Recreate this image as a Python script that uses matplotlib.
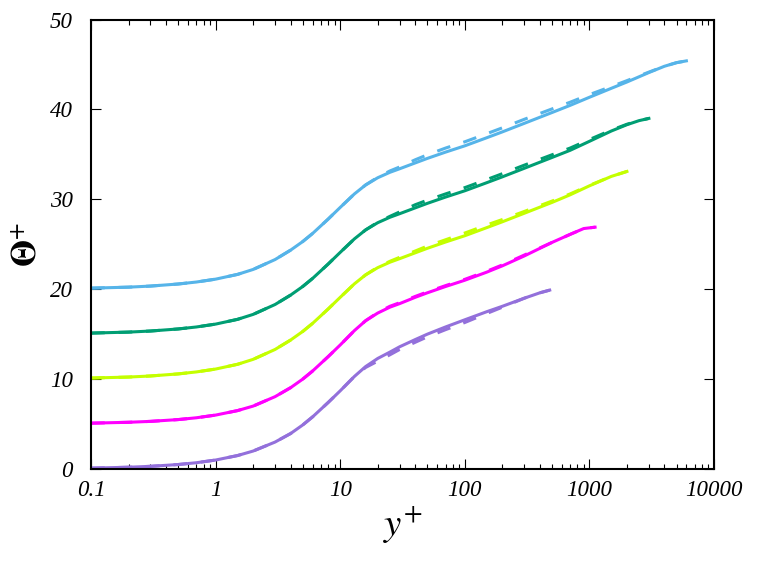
import numpy as np
import matplotlib
matplotlib.use('Agg')
import matplotlib.pyplot as plt
from matplotlib.ticker import FixedLocator, FixedFormatter, LogLocator, NullFormatter

yp = [0.1, 0.2, 0.3, 0.5, 0.7, 1, 1.5, 2, 3, 4, 5, 6, 8, 10, 13, 16, 20, 25, 30,
      40, 50, 70, 100, 150, 200, 300, 500, 700, 1000, 1500, 2000, 3000, 4000,
      5000, 6000]

# Theta+ (each profile shifted up by 5 in the picture)
purple_x = yp[:26] + [400, 480]
purple = [0.1, 0.2, 0.3, 0.5, 0.7, 1.0, 1.5, 2.0, 3.0, 3.95, 4.9, 5.8, 7.4, 8.7,
          10.3, 11.4, 12.3, 13.0, 13.6, 14.4, 15.0, 15.8, 16.6, 17.5, 18.1, 19.0,
          19.6, 19.9]
purple_d = [0.1, 0.2, 0.3, 0.5, 0.7, 1.0, 1.5, 2.0, 3.0, 3.95, 4.9, 5.8, 7.4, 8.7,
            10.3, 11.3, 12.0, 12.7, 13.3, 14.1, 14.7, 15.5, 16.3, 17.3, 18.0, 19.0,
            19.6, 19.9]

magenta_x = yp[:28] + [900, 1110]
magenta = [5.1, 5.2, 5.3, 5.5, 5.7, 6.0, 6.5, 7.0, 8.05, 9.05, 10.0, 10.9, 12.5,
           13.8, 15.4, 16.5, 17.35, 18.0, 18.4, 19.1, 19.6, 20.3, 21.0, 21.9, 22.6,
           23.7, 25.2, 26.1, 26.75, 26.9]
magenta_d = [5.1, 5.2, 5.3, 5.5, 5.7, 6.0, 6.5, 7.0, 8.05, 9.05, 10.0, 10.9, 12.5,
             13.8, 15.4, 16.5, 17.4, 18.1, 18.5, 19.2, 19.7, 20.4, 21.1, 22.0, 22.7,
             23.8, 25.2, 26.1, 26.75, 26.9]

yellow_x = yp[:31]
yellow = [10.12, 10.23, 10.35, 10.58, 10.8, 11.12, 11.65, 12.2, 13.3, 14.35, 15.3,
          16.2, 17.8, 19.1, 20.6, 21.6, 22.4, 23.0, 23.4, 24.05, 24.55, 25.25,
          25.95, 26.85, 27.5, 28.45, 29.65, 30.5, 31.5, 32.55, 33.1]
yellow_d = [10.12, 10.23, 10.35, 10.58, 10.8, 11.12, 11.65, 12.2, 13.3, 14.35, 15.3,
            16.2, 17.8, 19.1, 20.6, 21.6, 22.45, 23.1, 23.55, 24.25, 24.8, 25.5,
            26.25, 27.15, 27.75, 28.65, 29.8, 30.6, 31.55, 32.55, 33.1]

green_x = yp[:31] + [2500, 3000]
green = [15.12, 15.23, 15.35, 15.58, 15.8, 16.12, 16.65, 17.2, 18.3, 19.35, 20.3,
         21.2, 22.8, 24.1, 25.6, 26.6, 27.4, 28.0, 28.4, 29.05, 29.55, 30.25, 30.95,
         31.85, 32.5, 33.45, 34.65, 35.45, 36.45, 37.6, 38.3, 38.75, 39.0]
green_d = [15.12, 15.23, 15.35, 15.58, 15.8, 16.12, 16.65, 17.2, 18.3, 19.35, 20.3,
           21.2, 22.8, 24.1, 25.6, 26.6, 27.45, 28.1, 28.6, 29.4, 29.9, 30.6, 31.3,
           32.2, 32.85, 33.8, 34.95, 35.7, 36.65, 37.7, 38.35, 38.75, 39.0]

blue_x = yp
blue = [20.12, 20.23, 20.35, 20.58, 20.8, 21.12, 21.65, 22.2, 23.3, 24.35, 25.3,
        26.2, 27.8, 29.1, 30.6, 31.6, 32.4, 33.0, 33.4, 34.05, 34.55, 35.25, 35.95,
        36.85, 37.5, 38.45, 39.65, 40.45, 41.35, 42.35, 43.05, 44.1, 44.8, 45.2, 45.4]
blue_d = [20.12, 20.23, 20.35, 20.58, 20.8, 21.12, 21.65, 22.2, 23.3, 24.35, 25.3,
          26.2, 27.8, 29.1, 30.6, 31.6, 32.45, 33.15, 33.6, 34.4, 34.95, 35.7, 36.4,
          37.3, 37.95, 38.9, 40.05, 40.8, 41.65, 42.55, 43.2, 44.15, 44.8, 45.2, 45.4]

series = [
    (purple_x, purple, purple_d, '#9370db'),
    (magenta_x, magenta, magenta_d, '#ff00ff'),
    (yellow_x, yellow, yellow_d, '#c4ff00'),
    (green_x, green, green_d, '#009e73'),
    (blue_x, blue, blue_d, '#56b4e9'),
]

xticks = [0.1, 1, 10, 100, 1000, 10000]
xlabels = ['0.1', '1', '10', '100', '1000', '10000']
yticks = [0, 10, 20, 30, 40, 50]

plt.rcParams['font.family'] = ['Liberation Serif', 'DejaVu Serif']
plt.rcParams['mathtext.fontset'] = 'stix'

fig = plt.figure(figsize=(7.63, 5.69), dpi=100)
ax = fig.add_axes([0.1193, 0.1757, 0.8165, 0.79])

for x, s, d, c in series:
    ax.plot(x, d, color=c, lw=2.2, dashes=[4.5, 4.5], solid_capstyle='butt')
    ax.plot(x, s, color=c, lw=2.2)

ax.set_xscale('log')
ax.set_xlim(0.1, 10000)
ax.set_ylim(0, 50)

ax.xaxis.set_major_locator(FixedLocator(xticks))
ax.xaxis.set_major_formatter(FixedFormatter(xlabels))
ax.xaxis.set_minor_locator(LogLocator(base=10, subs=np.arange(2, 10)))
ax.xaxis.set_minor_formatter(NullFormatter())
ax.set_yticks(yticks)

for sp in ax.spines.values():
    sp.set_linewidth(1.5)

ax.tick_params(which='both', direction='in', top=True, right=True, width=0.8)
ax.tick_params(which='major', length=7, labelsize=16.5)
ax.tick_params(which='minor', length=3.5)
ax.tick_params(axis='x', pad=8)
ax.tick_params(axis='y', pad=13)
for lab in ax.get_xticklabels() + ax.get_yticklabels():
    lab.set_fontstyle('italic')

ax.set_xlabel(r'$y^{+}$', fontsize=28, labelpad=2)
ax.set_ylabel(r'$\mathbf{\Theta}^{+}$', fontsize=25, labelpad=4)

fig.savefig('out.png', dpi=100)
